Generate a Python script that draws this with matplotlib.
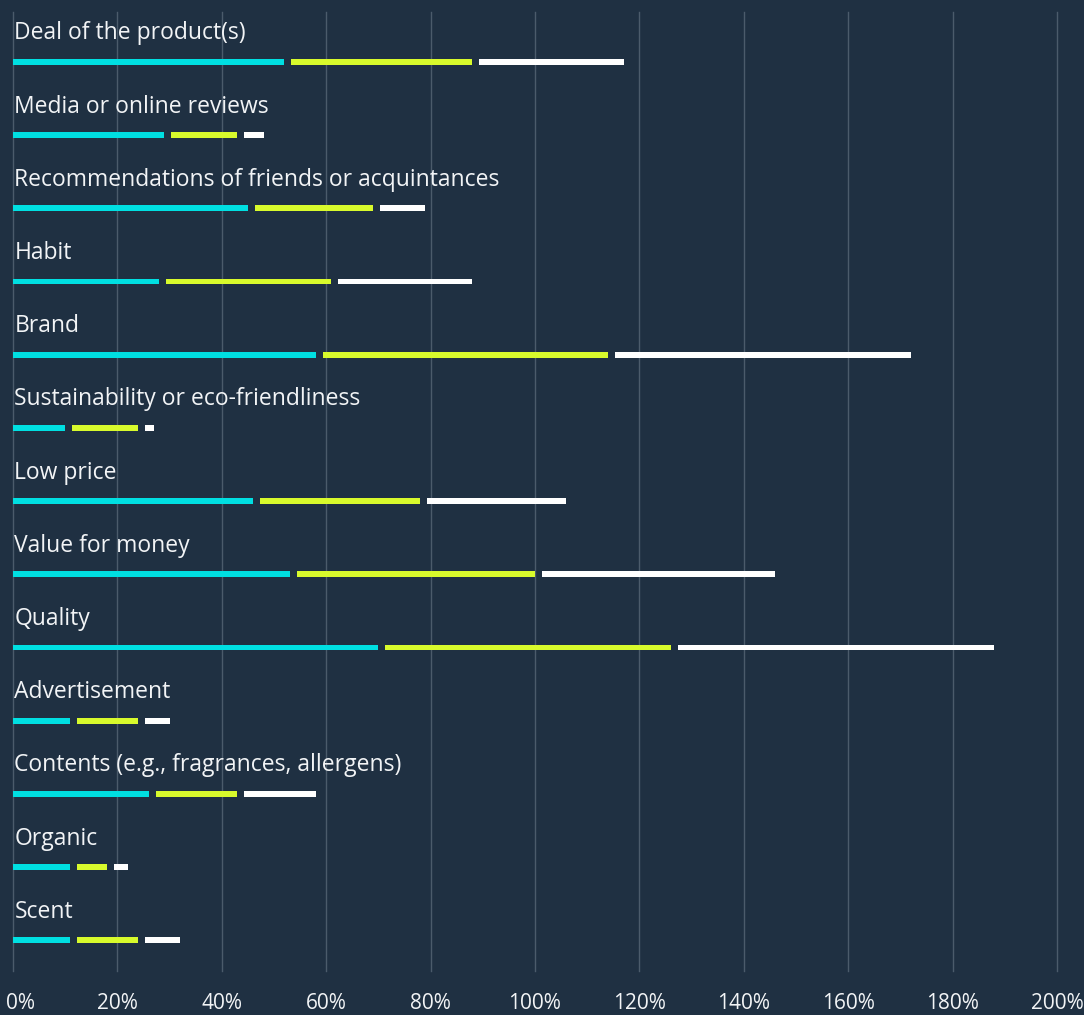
import matplotlib
matplotlib.use("Agg")
import matplotlib.pyplot as plt
from matplotlib.transforms import ScaledTranslation

categories = [
    "Deal of the product(s)",
    "Media or online reviews",
    "Recommendations of friends or acquintances",
    "Habit",
    "Brand",
    "Sustainability or eco-friendliness",
    "Low price",
    "Value for money",
    "Quality",
    "Advertisement",
    "Contents (e.g., fragrances, allergens)",
    "Organic",
    "Scent",
]
cyan_values = [52, 29, 45, 28, 58, 10, 46, 53, 70, 11, 26, 11, 11]
lime_values = [36, 14, 24, 33, 56, 14, 32, 47, 56, 13, 17, 7, 13]
white_values = [29, 5, 10, 27, 58, 3, 28, 46, 62, 6, 15, 4, 8]
tick_values = [0, 20, 40, 60, 80, 100, 120, 140, 160, 180, 200]

BG = "#1f3042"
COLORS = ["#00dfe2", "#d8fa2c", "#ffffff"]
GAP = 1.35  # gap between segments, in % units
BAR_H = 0.08

plt.rcParams["font.family"] = ["Open Sans", "DejaVu Sans"]

fig = plt.figure(figsize=(10.84, 10.15), dpi=100, facecolor=BG)
ax = fig.add_axes([0.012, 0.0433, 0.963, 0.945], facecolor=BG)

y = list(range(len(categories)))
left = [0.0] * len(categories)
for k, vals in enumerate([cyan_values, lime_values, white_values]):
    starts = [l + (GAP if k > 0 else 0) for l in left]
    widths = [v - (GAP if k > 0 else 0) for v in vals]
    ax.barh(y, widths, left=starts, height=BAR_H, color=COLORS[k], zorder=3)
    left = [l + v for l, v in zip(left, vals)]

for i, name in enumerate(categories):
    ax.text(0.25, i - 0.39, name, color="#f2f4f6", fontsize=16.5,
            va="center", ha="left", zorder=4)

ax.set_xlim(0, 200)
ax.set_ylim(len(categories) - 1 + 0.42, -0.683)
ax.set_xticks(tick_values)
ax.set_xticklabels([f"{t}%" for t in tick_values], color="#f2f4f6",
                   fontsize=15, fontweight="medium")
ax.set_yticks([])
ax.tick_params(axis="x", length=0, pad=16)
# keep the "0%" label inside the figure
first = ax.get_xticklabels()[0]
first.set_transform(first.get_transform() + ScaledTranslation(7 / 100, 0, fig.dpi_scale_trans))
ax.grid(axis="x", color="#4b5b6b", linewidth=1, zorder=0)
for line in ax.get_xgridlines():
    line.set_clip_on(False)
for s in ax.spines.values():
    s.set_visible(False)

fig.savefig("out.png", dpi=100, facecolor=BG)
